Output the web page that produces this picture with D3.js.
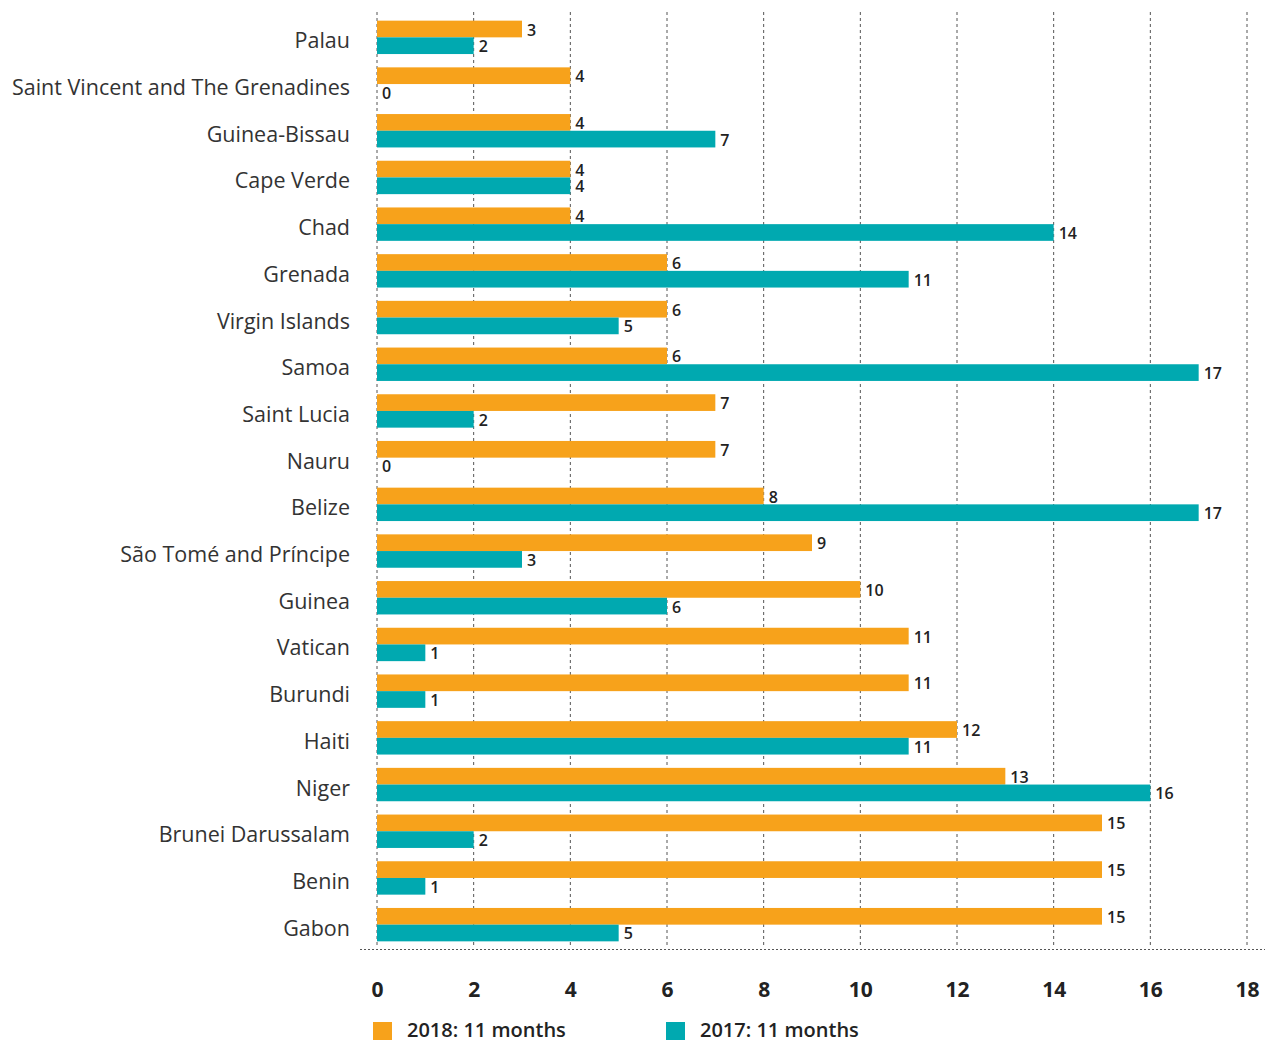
<!DOCTYPE html>
<html>
<head>
<meta charset="utf-8">
<script src="https://cdn.jsdelivr.net/npm/d3@7"></script>
<style>
	body { margin: 0; background: #fff; }
	svg { display: block; }
</style>
</head>
<body>
<svg id="chart" width="1270" height="1043"></svg>
<script>
const countries = ['Palau', 'Saint Vincent and The Grenadines', 'Guinea-Bissau', 'Cape Verde', 'Chad', 'Grenada',
	'Virgin Islands', 'Samoa', 'Saint Lucia', 'Nauru', 'Belize', 'São Tomé and Príncipe', 'Guinea', 'Vatican',
	'Burundi', 'Haiti', 'Niger', 'Brunei Darussalam', 'Benin', 'Gabon']
const values2018 = [3, 4, 4, 4, 4, 6, 6, 6, 7, 7, 8, 9, 10, 11, 11, 12, 13, 15, 15, 15]
const values2017 = [2, 0, 7, 4, 14, 11, 5, 17, 2, 0, 17, 3, 6, 1, 1, 11, 16, 2, 1, 5]
const tickValues = [0, 2, 4, 6, 8, 10, 12, 14, 16, 18]
const seriesNames = ['2018: 11 months', '2017: 11 months']
const colors = ['#f7a21b', '#00a9b0']

const svg = d3.select('#chart')
const font = "'Open Sans', sans-serif"

const x = d3.scaleLinear().domain([0, 18]).range([377, 1247])
const y = d3.scaleBand().domain(countries).range([14, 948]).paddingInner(0.285).paddingOuter(0.1425)
const sub = d3.scaleBand().domain([0, 1]).range([0, y.bandwidth()])

// grid
const grid = svg.append('g').attr('class', 'grid')
grid.selectAll('line')
	.data(tickValues)
	.join('line')
	.attr('x1', d => x(d))
	.attr('x2', d => x(d))
	.attr('y1', 12)
	.attr('y2', 948)
	.attr('stroke', '#555')
	.attr('stroke-width', 1)
	.attr('stroke-dasharray', '3,3')
svg.append('line')
	.attr('x1', 360).attr('x2', 1265)
	.attr('y1', 949.5).attr('y2', 949.5)
	.attr('stroke', '#555')
	.attr('stroke-dasharray', '2,2')

// bars
const rows = countries.map((c, i) => ({ c, v: [values2018[i], values2017[i]] }))
const g = svg.append('g')
const row = g.selectAll('g.row').data(rows).join('g').attr('class', 'row')
	.attr('transform', d => `translate(0,${y(d.c)})`)

row.selectAll('rect')
	.data(d => d.v.map((v, k) => ({ v, k })))
	.join('rect')
	.attr('x', x(0))
	.attr('y', d => sub(d.k))
	.attr('width', d => x(d.v) - x(0))
	.attr('height', sub.bandwidth())
	.attr('fill', d => colors[d.k])

row.selectAll('text.val')
	.data(d => d.v.map((v, k) => ({ v, k })))
	.join('text')
	.attr('class', 'val')
	.attr('x', d => x(d.v) + 5)
	.attr('y', d => sub(d.k) + sub.bandwidth() / 2 + 6.5)
	.attr('font-family', font)
	.attr('font-size', 16)
	.attr('font-weight', 600)
	.attr('fill', '#222')
	.text(d => d.v)

// country labels
svg.append('g').selectAll('text')
	.data(countries)
	.join('text')
	.attr('x', 350)
	.attr('y', d => y(d) + y.bandwidth() / 2 + 11)
	.attr('text-anchor', 'end')
	.attr('font-family', font)
	.attr('font-size', 21.5)
	.attr('fill', '#333')
	.text(d => d)

// x axis
const xAxis = svg.append('g')
	.attr('transform', 'translate(0,978)')
	.call(d3.axisBottom(x).tickValues(tickValues).tickSize(0).tickPadding(0))
xAxis.select('.domain').remove()
xAxis.selectAll('text')
	.attr('dy', '0.9em')
	.attr('font-family', font)
	.attr('font-size', 21)
	.attr('font-weight', 700)
	.attr('fill', '#222')

// legend
const legend = svg.append('g').attr('transform', 'translate(0,1022)')
const lx = [373, 666]
seriesNames.forEach((s, i) => {
	legend.append('rect').attr('x', lx[i]).attr('y', 0).attr('width', 19).attr('height', 18).attr('fill', colors[i])
	legend.append('text')
		.attr('x', lx[i] + 34)
		.attr('y', 15)
		.attr('font-family', font)
		.attr('font-size', 20)
		.attr('font-weight', 600)
		.attr('fill', '#222')
		.text(s)
})
</script>
</body>
</html>
